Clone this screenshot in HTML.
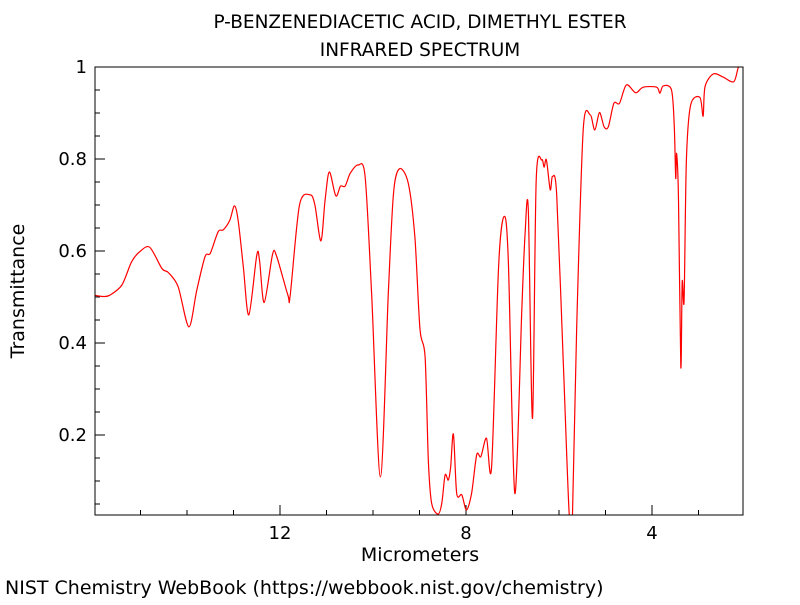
<!DOCTYPE html>
<html><head><meta charset="utf-8"><style>
body{margin:0;background:#fff;width:800px;height:600px;overflow:hidden}
svg text{font-family:"DejaVu Sans","Liberation Sans",sans-serif;fill:#000}
</style></head><body>
<svg id="chart" width="800" height="600" xmlns="http://www.w3.org/2000/svg">
<text x="420" y="28" font-size="18.5" text-anchor="middle">P-BENZENEDIACETIC ACID, DIMETHYL ESTER</text>
<text x="420" y="56" font-size="18.5" text-anchor="middle">INFRARED SPECTRUM</text>
<defs><clipPath id="clip"><rect x="95" y="67" width="648" height="448"/></clipPath></defs>
<g id="axes"></g>
<g id="series" clip-path="url(#clip)"></g>
<rect x="95" y="67" width="648" height="448" fill="none" stroke="#000" stroke-width="1"/>
<text transform="translate(24,291) rotate(-90)" font-size="19" text-anchor="middle">Transmittance</text>
<text x="420" y="561" font-size="19" text-anchor="middle">Micrometers</text>
<text x="5" y="594" font-size="19">NIST Chemistry WebBook (https://webbook.nist.gov/chemistry)</text>
</svg>
<script>
const xTicks=[12,8,4];
const yTicks=[0.2,0.4,0.6,0.8,1];
const yTickLabels=["0.2","0.4","0.6","0.8","1"];
const wavelength=[16,15.8,15.66,15.4,15.19,15.01,14.8,14.54,14.4,14.19,13.96,13.79,13.61,13.5,13.33,13.22,13.08,12.98,12.9,12.79,12.67,12.5,12.44,12.34,12.16,12.07,11.83,11.78,11.58,11.35,11.25,11.12,11.03,10.94,10.8,10.7,10.6,10.49,10.32,10.17,10.03,9.84,9.67,9.56,9.43,9.24,9.1,8.99,8.88,8.81,8.74,8.6,8.52,8.45,8.38,8.33,8.27,8.2,8.09,7.99,7.88,7.77,7.68,7.56,7.45,7.3,7.18,7.09,6.95,6.8,6.73,6.66,6.57,6.49,6.37,6.32,6.27,6.19,6.14,6.05,5.91,5.78,5.71,5.62,5.48,5.33,5.23,5.13,5.03,4.94,4.82,4.7,4.55,4.35,4.19,3.9,3.83,3.76,3.58,3.52,3.49,3.47,3.43,3.38,3.35,3.31,3.26,3.17,2.97,2.9,2.86,2.68,2.47,2.24,2.14,2.05];
const transmittance=[0.504,0.501,0.504,0.526,0.577,0.599,0.608,0.562,0.553,0.522,0.435,0.515,0.588,0.595,0.642,0.646,0.667,0.698,0.667,0.566,0.461,0.591,0.58,0.488,0.593,0.588,0.504,0.504,0.7,0.722,0.7,0.622,0.711,0.772,0.72,0.741,0.741,0.769,0.787,0.762,0.508,0.109,0.508,0.725,0.779,0.747,0.63,0.43,0.37,0.146,0.052,0.028,0.052,0.113,0.102,0.131,0.202,0.073,0.07,0.037,0.073,0.157,0.153,0.193,0.131,0.566,0.675,0.58,0.073,0.472,0.638,0.69,0.236,0.754,0.798,0.782,0.798,0.733,0.762,0.722,0.363,0.028,0.028,0.435,0.863,0.896,0.863,0.901,0.87,0.87,0.921,0.921,0.961,0.944,0.956,0.956,0.943,0.959,0.95,0.87,0.758,0.812,0.711,0.348,0.533,0.493,0.798,0.917,0.934,0.893,0.957,0.985,0.978,0.968,1.0,1.0];
const NS="http://www.w3.org/2000/svg";
function xs(v){return 280+(12-v)*46.5;}
function ys(v){return 527-v*460;}
const axes=document.getElementById('axes');
for(let v=3;v<=15;v++){
  const t=document.createElementNS(NS,'line');
  
  
  const major=xTicks.includes(v);
  t.setAttribute('x1',xs(v));t.setAttribute('x2',xs(v));
  t.setAttribute('y1',515);t.setAttribute('y2',major?505:510);
  t.setAttribute('stroke','#000');axes.appendChild(t);
}
xTicks.forEach(v=>{
  const l=document.createElementNS(NS,'text');
  
  
  l.setAttribute('x',xs(v));l.setAttribute('y',539);
  l.setAttribute('font-size','18');l.setAttribute('text-anchor','middle');
  l.textContent=String(v);axes.appendChild(l);
});
for(let i=1;i<=19;i++){
  const v=i*0.05;
  const major=i%4===0;
  const t=document.createElementNS(NS,'line');
  
  
  t.setAttribute('x1',95);t.setAttribute('x2',major?105:100);
  t.setAttribute('y1',ys(v));t.setAttribute('y2',ys(v));
  t.setAttribute('stroke','#000');axes.appendChild(t);
}
yTicks.forEach((v,i)=>{
  const l=document.createElementNS(NS,'text');
  
  
  l.setAttribute('x',87);l.setAttribute('y',ys(v)+6);
  l.setAttribute('font-size','18');l.setAttribute('text-anchor','end');
  l.textContent=yTickLabels[i];axes.appendChild(l);
});
const pts=wavelength.map((w,i)=>[xs(w),ys(transmittance[i])]);
let d='M'+pts[0][0].toFixed(1)+','+pts[0][1].toFixed(1);
for(let i=0;i<pts.length-1;i++){
  const p0=pts[Math.max(0,i-1)],p1=pts[i],p2=pts[i+1],p3=pts[Math.min(pts.length-1,i+2)];
  const k=0.15;
  const c1=[p1[0]+(p2[0]-p0[0])*k,p1[1]+(p2[1]-p0[1])*k];
  const c2=[p2[0]-(p3[0]-p1[0])*k,p2[1]-(p3[1]-p1[1])*k];
  d+=' C'+c1.map(n=>n.toFixed(1)).join(',')+' '+c2.map(n=>n.toFixed(1)).join(',')+' '+p2[0].toFixed(1)+','+p2[1].toFixed(1);
}
const p=document.createElementNS(NS,'path');


p.setAttribute('d',d);
p.setAttribute('fill','none');p.setAttribute('stroke','#ff0000');p.setAttribute('stroke-width','1.2');
document.getElementById('series').appendChild(p);
</script>
</body></html>
